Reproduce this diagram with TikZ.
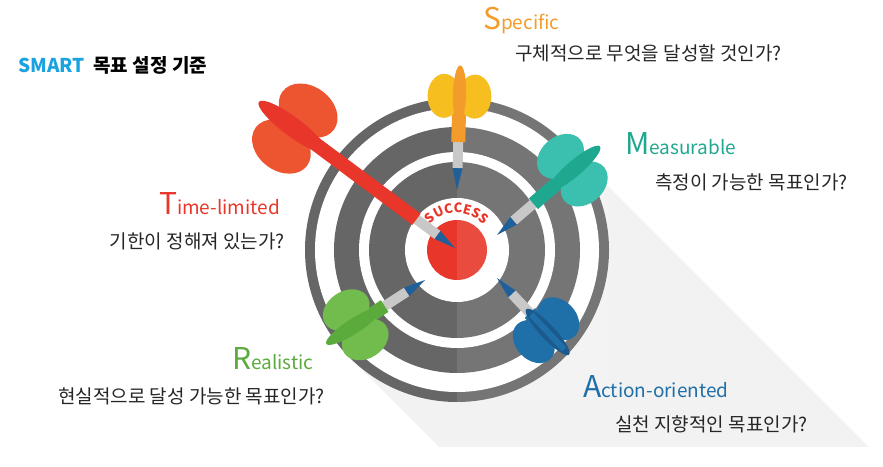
\documentclass[tikz,border=0pt]{standalone}
\usepackage{fontspec}
\setmainfont{Noto Sans CJK KR}
\usetikzlibrary{decorations.text,calc}
\definecolor{boardgray}{HTML}{666666}
\definecolor{dartblue}{HTML}{1F5F9A}
\definecolor{shaftgray}{HTML}{C8C8C8}
\definecolor{smartcyan}{HTML}{1AA3E0}
\definecolor{specorange}{HTML}{F39C2B}
\definecolor{specyellow}{HTML}{F6BE1E}
\definecolor{timered}{HTML}{E8372A}
\definecolor{timelight}{HTML}{EC5530}
\definecolor{measteal}{HTML}{1FA890}
\definecolor{measlight}{HTML}{3BBFAE}
\definecolor{realgreen}{HTML}{5BAA3C}
\definecolor{reallight}{HTML}{72BC4E}
\definecolor{actblue}{HTML}{1F6FA8}
\definecolor{actdark}{HTML}{1C5A8E}
\tikzset{
  pics/dart/.style n args={5}{code={
    % #1 = length, #2 = body, #3 = flight light, #4 = flight dark, #5 = flight size
    \fill[dartblue] (0,0) -- (22,5) -- (22,-5) -- cycle;
    \fill[shaftgray] (22,-5) rectangle (48,5);
    \fill[#2] (48,-7) rectangle (#1-20,7);
    \fill[#3] (#1-1.1*#5,0.7*#5) ellipse (#5 and 0.75*#5);
    \fill[#3] (#1-1.1*#5,-0.7*#5) ellipse (#5 and 0.75*#5);
    \fill[#4] (#1-#5,0) ellipse (1.3*#5 and 0.3*#5);
    \fill[#2] (#1-2*#5,-3) rectangle (#1,3);
  }},
  head/.style={font=\fontsize{19}{22}\selectfont, anchor=base west, inner sep=0pt},
  question/.style={font=\fontsize{19}{22}\selectfont, anchor=base west, inner sep=0pt, text=black!85}
}
\newcommand\bigfirst[1]{{\fontsize{30}{30}\selectfont #1}}
\begin{document}
\begin{tikzpicture}[x=1pt,y=1pt]
\useasboundingbox (0,0) rectangle (883,466);
\coordinate (C) at (457,216);
% long shadow
\begin{scope}
  \clip (0,20) rectangle (883,466);
  \fill[black!5] ($(C)+(45:152)$) -- ++(-45:600) -- ++(225:304) -- ($(C)+(225:152)$) -- cycle;
\end{scope}
% board
\fill[boardgray] (C) circle (152);
\fill[white] (C) circle (142);
\fill[boardgray] (C) circle (123);
\fill[white] (C) circle (98);
\fill[boardgray] (C) circle (88);
\fill[white] (C) circle (52);
\fill[timered] (C) circle (30);
\fill[white, opacity=0.1] ($(C)+(0,-152)$) rectangle ($(C)+(152,152)$);
\path[decorate, decoration={text along path, text align=center,
  text={|\bfseries\fontsize{13}{13}\selectfont\color{timered}|SUCCESS}}]
  ($(C)+(150:37)$) arc (150:30:37);
% darts
\pic at (457,276) [rotate=88.5] {dart={118}{specorange}{specyellow}{specorange}{22}};
\pic at (455,218) [rotate=143.3] {dart={235}{timered}{timelight}{timered}{32}};
\pic at (497,231) [rotate=40.7] {dart={128}{measteal}{measlight}{measteal}{26}};
\pic at (425,186) [rotate=212.9] {dart={110}{realgreen}{reallight}{realgreen}{25}};
\pic at (497,188) [rotate=313.2] {dart={98}{actblue}{actblue}{actdark}{24}};
% texts
\node[head, font=\bfseries\fontsize{19}{22}\selectfont] (title) at (18,393) {\textcolor{smartcyan}{SMART}\ \ 목표 설정 기준};
\node[head, text=specorange] (spec) at (483,436) {\bigfirst{S}pecific};
\node[question] (specq) at (515,405) {구체적으로 무엇을 달성할 것인가?};
\node[head, text=measteal] (meas) at (625,311) {\bigfirst{M}easurable};
\node[question] (measq) at (655,276) {측정이 가능한 목표인가?};
\node[head, text=timered, anchor=base east] (time) at (280,251) {\bigfirst{T}ime-limited};
\node[question, anchor=base east] (timeq) at (285,217) {기한이 정해져 있는가?};
\node[head, text=realgreen] (real) at (232,97) {\bigfirst{R}ealistic};
\node[question] (realq) at (58,63) {현실적으로 달성 가능한 목표인가?};
\node[head, text=actblue] (act) at (583,69) {\bigfirst{A}ction-oriented};
\node[question] (actq) at (615,35) {실천 지향적인 목표인가?};
\end{tikzpicture}
\end{document}
